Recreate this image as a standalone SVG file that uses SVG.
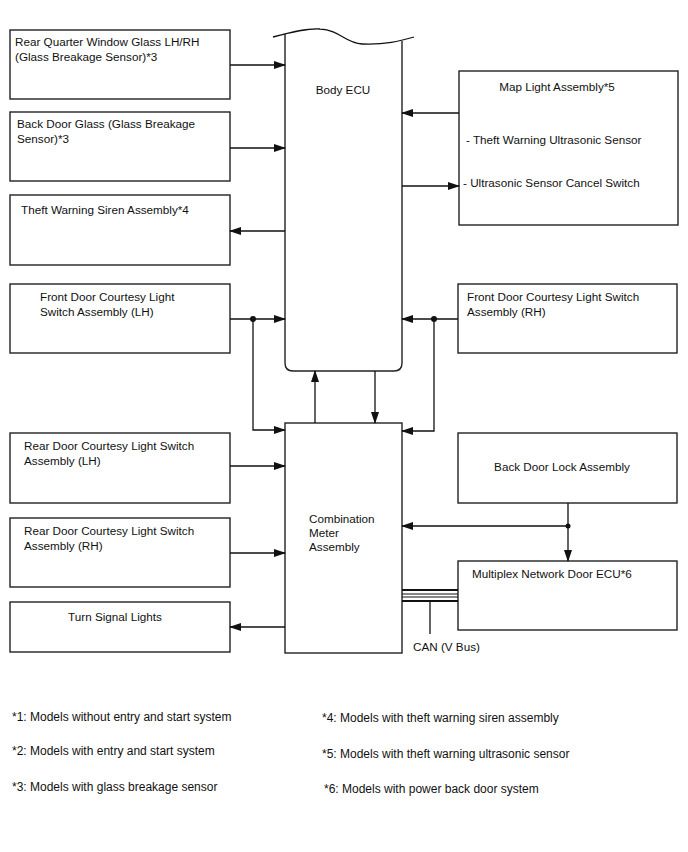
<svg xmlns="http://www.w3.org/2000/svg" width="688" height="852" viewBox="0 0 688 852">
<style>
.box{fill:#fff;stroke:#222;stroke-width:1.4}
.ln{fill:none;stroke:#111;stroke-width:1.3}
.t{font-family:"Liberation Sans",Arial,sans-serif;font-size:11.7px;fill:#111}
.f{font-family:"Liberation Sans",Arial,sans-serif;font-size:12px;fill:#111}
</style>
<defs>
<marker id="ah" markerWidth="12" markerHeight="8" refX="11" refY="4" orient="auto" markerUnits="userSpaceOnUse">
<path d="M0,0 L12,4 L0,8 Z" fill="#111"/>
</marker>
</defs>
<rect width="688" height="852" fill="#fff"/>

<g id="body-ecu">
<path class="box" d="M285,34 L285,363 Q285,371 293,371 L394,371 Q402,371 402,363 L402,41"/>
<path class="ln" d="M273,37 C292,32 308,28 320,29 C340,30 345,43 362,44 C385,45 400,41 414,37"/>
<text class="t" x="343" y="94" text-anchor="middle">Body ECU</text>
</g>

<g id="combination-meter">
<rect class="box" x="285" y="423" width="117" height="230"/>
<text class="t" x="309" y="523">Combination</text>
<text class="t" x="309" y="537">Meter</text>
<text class="t" x="309" y="551">Assembly</text>
</g>

<g id="rear-quarter">
<rect class="box" x="10" y="30" width="220" height="69"/>
<text class="t" x="15" y="46">Rear Quarter Window Glass LH/RH</text>
<text class="t" x="15" y="61">(Glass Breakage Sensor)*3</text>
</g>

<g id="back-door-glass">
<rect class="box" x="10" y="112" width="220" height="69"/>
<text class="t" x="17" y="128">Back Door Glass (Glass Breakage</text>
<text class="t" x="17" y="143">Sensor)*3</text>
</g>

<g id="siren">
<rect class="box" x="10" y="195" width="220" height="70"/>
<text class="t" x="21" y="214">Theft Warning Siren Assembly*4</text>
</g>

<g id="front-lh">
<rect class="box" x="10" y="284" width="220" height="69"/>
<text class="t" x="40" y="301">Front Door Courtesy Light</text>
<text class="t" x="40" y="316">Switch Assembly (LH)</text>
</g>

<g id="rear-lh">
<rect class="box" x="10" y="433" width="220" height="70"/>
<text class="t" x="24" y="450">Rear Door Courtesy Light Switch</text>
<text class="t" x="24" y="465">Assembly (LH)</text>
</g>

<g id="rear-rh">
<rect class="box" x="10" y="518" width="220" height="69"/>
<text class="t" x="24" y="535">Rear Door Courtesy Light Switch</text>
<text class="t" x="24" y="550">Assembly (RH)</text>
</g>

<g id="turn-signal">
<rect class="box" x="10" y="602" width="220" height="50"/>
<text class="t" x="115" y="621" text-anchor="middle">Turn Signal Lights</text>
</g>

<g id="map-light">
<rect class="box" x="459" y="71" width="219" height="154"/>
<text class="t" x="557" y="91" text-anchor="middle">Map Light Assembly*5</text>
<text class="t" x="466" y="144">- Theft Warning Ultrasonic Sensor</text>
<text class="t" x="463" y="187">- Ultrasonic Sensor Cancel Switch</text>
</g>

<g id="front-rh">
<rect class="box" x="458" y="284" width="219" height="69"/>
<text class="t" x="467" y="301">Front Door Courtesy Light Switch</text>
<text class="t" x="467" y="316">Assembly (RH)</text>
</g>

<g id="back-door-lock">
<rect class="box" x="458" y="433" width="219" height="70"/>
<text class="t" x="562" y="471" text-anchor="middle">Back Door Lock Assembly</text>
</g>

<g id="multiplex-ecu">
<rect class="box" x="458" y="561" width="219" height="69"/>
<text class="t" x="472" y="578">Multiplex Network Door ECU*6</text>
</g>

<g id="connectors">
<line class="ln" x1="230" y1="65" x2="285" y2="65" marker-end="url(#ah)"/>
<line class="ln" x1="230" y1="148" x2="285" y2="148" marker-end="url(#ah)"/>
<line class="ln" x1="285" y1="231" x2="230" y2="231" marker-end="url(#ah)"/>
<line class="ln" x1="230" y1="319" x2="285" y2="319" marker-end="url(#ah)"/>
<polyline class="ln" points="253,319 253,430 285,430" marker-end="url(#ah)"/>
<circle cx="253" cy="319" r="3" fill="#111"/>
<line class="ln" x1="315" y1="423" x2="315" y2="371" marker-end="url(#ah)"/>
<line class="ln" x1="375" y1="371" x2="375" y2="423" marker-end="url(#ah)"/>
<line class="ln" x1="459" y1="113" x2="402" y2="113" marker-end="url(#ah)"/>
<line class="ln" x1="402" y1="186" x2="459" y2="186" marker-end="url(#ah)"/>
<line class="ln" x1="458" y1="319" x2="402" y2="319" marker-end="url(#ah)"/>
<polyline class="ln" points="434,319 434,431 402,431" marker-end="url(#ah)"/>
<circle cx="434" cy="319" r="3" fill="#111"/>
<line class="ln" x1="230" y1="466" x2="285" y2="466" marker-end="url(#ah)"/>
<line class="ln" x1="230" y1="553" x2="285" y2="553" marker-end="url(#ah)"/>
<line class="ln" x1="285" y1="627" x2="230" y2="627" marker-end="url(#ah)"/>
<polyline class="ln" points="568,503 568,526 402,526" marker-end="url(#ah)"/>
<line class="ln" x1="568" y1="526" x2="568" y2="561" marker-end="url(#ah)"/>
<circle cx="568" cy="526" r="2.5" fill="#111"/>
<line x1="402" y1="590" x2="458" y2="590" stroke="#111" stroke-width="2"/>
<line x1="402" y1="594" x2="458" y2="594" stroke="#111" stroke-width="1"/>
<line x1="402" y1="597" x2="458" y2="597" stroke="#111" stroke-width="1"/>
<line x1="402" y1="601" x2="458" y2="601" stroke="#111" stroke-width="2"/>
<line class="ln" x1="430" y1="601" x2="430" y2="634"/>
<text class="t" x="413" y="651">CAN (V Bus)</text>
</g>

<g id="notes">
<text class="f" x="12" y="721">*1: Models without entry and start system</text>
<text class="f" x="12" y="755">*2: Models with entry and start system</text>
<text class="f" x="12" y="791">*3: Models with glass breakage sensor</text>
<text class="f" x="322" y="722">*4: Models with theft warning siren assembly</text>
<text class="f" x="322" y="758">*5: Models with theft warning ultrasonic sensor</text>
<text class="f" x="324" y="793">*6: Models with power back door system</text>
</g>
</svg>
